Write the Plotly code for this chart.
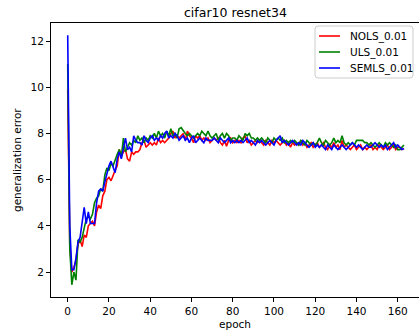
import plotly.graph_objects as go

nols = [9.9, 3.2, 2.0, 2.2, 2.5, 3.2, 3.4, 3.1, 3.6, 3.5,
        4.0, 4.1, 4.2, 4.0, 4.6, 4.9, 4.75, 5.3, 5.5, 6.0,
        6.1, 5.95, 6.2, 6.4, 6.6, 7.3, 7.0, 7.2, 7.3, 6.9,
        6.8, 7.2, 7.1, 7.2, 7.2, 7.3, 7.6, 7.7, 7.4, 7.5,
        7.6, 7.5, 7.6, 7.5, 7.8, 7.6, 7.7, 7.6, 7.7, 7.8,
        8.0, 8.1, 7.8, 7.9, 7.8, 7.9, 8.0, 7.7, 8.1, 7.9,
        7.8, 7.6, 7.9, 7.8, 7.9, 7.7, 7.8, 7.7, 7.8, 7.6,
        7.7, 7.8, 7.7, 7.8, 7.6, 7.5, 7.7, 7.45, 7.7, 7.8,
        7.6, 7.7, 7.6, 7.7, 7.6, 7.8, 7.9, 7.6, 7.7, 7.5,
        7.6, 7.7, 7.6, 7.7, 7.6, 7.5, 7.7, 7.6, 7.5, 7.7,
        7.6, 7.7, 7.6, 7.5, 7.6, 7.7, 7.5, 7.6, 7.4, 7.6,
        7.5, 7.6, 7.5, 7.7, 7.5, 7.6, 7.4, 7.5, 7.6, 7.4,
        7.5, 7.6, 7.4, 7.5, 7.6, 7.4, 7.3, 7.5, 7.4, 7.6,
        7.4, 7.5, 7.3, 7.7, 7.4, 7.5, 7.4, 7.3, 7.4, 7.5,
        7.3, 7.4, 7.5, 7.3, 7.4, 7.3, 7.4, 7.5, 7.3, 7.4,
        7.3, 7.5, 7.4, 7.3, 7.4, 7.5, 7.3, 7.4, 7.5, 7.3,
        7.4, 7.4, 7.3, 7.35]

uls = [11.0, 3.0, 1.45, 2.0, 1.65, 3.4, 3.3, 3.5, 3.9, 4.3,
       4.4, 4.3, 4.5, 5.0, 5.2, 5.3, 5.6, 5.5, 6.2, 6.5,
       6.4, 6.7, 6.6, 6.9, 7.1, 7.3, 7.0, 7.8, 7.2, 7.4,
       7.6, 7.5, 7.7, 7.6, 7.9, 7.7, 7.8, 7.6, 7.8, 7.7,
       7.9, 7.8, 8.0, 7.8, 8.1, 7.9, 8.0, 7.8, 8.1, 7.9,
       8.2, 7.9, 8.0, 7.8, 8.2, 8.25, 8.1, 8.0, 7.9, 8.0,
       7.9, 7.8, 7.9, 8.0, 7.9, 8.1, 8.0, 7.9, 8.1, 7.9,
       7.8, 7.9, 8.0, 7.7, 7.9, 8.0, 7.8, 8.0, 7.9, 7.7,
       7.8, 7.8, 7.7, 7.9, 7.8, 7.7, 8.0, 7.9, 8.0, 7.8,
       7.8, 7.7, 7.8, 7.7, 7.8, 7.7, 7.6, 7.8, 7.7, 7.6,
       7.8, 7.7, 7.8, 7.7, 7.8, 7.6, 7.7, 7.6, 7.7, 7.6,
       7.7, 7.6, 7.5, 7.7, 7.6, 7.5, 7.7, 7.6, 7.5, 7.6,
       7.5, 7.6, 7.8, 7.6, 7.5, 7.7, 7.6, 7.5, 7.6, 7.8,
       7.6, 7.7, 7.6, 7.9, 7.6, 7.5, 7.6, 7.5, 7.6, 7.5,
       7.7, 7.7, 7.7, 7.7, 7.6, 7.6, 7.5, 7.6, 7.5, 7.4,
       7.5, 7.6, 7.5, 7.4, 7.6, 7.5, 7.6, 7.5, 7.4, 7.5,
       7.3, 7.3, 7.4, 7.5]

semls = [12.25, 4.0, 2.1, 2.1, 2.6, 3.3, 3.5, 4.2, 4.8, 4.1,
         4.6, 4.1, 4.1, 4.1, 5.0, 5.5, 5.6, 5.5, 5.9, 6.3,
         6.6, 6.8, 6.5, 6.3, 6.9, 7.2, 6.9, 7.3, 7.8, 7.3,
         7.4, 7.2, 7.9, 7.7, 7.6, 7.6, 7.5, 7.9, 7.7, 7.6,
         7.8, 7.9, 7.7, 7.8, 7.7, 7.9, 7.8, 8.0, 8.1, 7.8,
         7.9, 7.8, 8.0, 7.9, 7.7, 7.8, 7.9, 7.7, 7.8, 7.6,
         7.8, 7.9, 7.6, 7.7, 7.8, 7.7, 7.6, 7.8, 7.7, 7.7,
         7.7, 7.8, 7.7, 7.6, 7.8, 7.7, 7.6, 7.7, 7.8, 7.6,
         7.7, 7.6, 7.7, 7.6, 7.7, 7.6, 7.7, 7.8, 7.6, 7.7,
         7.6, 7.5, 7.7, 7.6, 7.7, 7.6, 7.5, 7.6, 7.7, 7.6,
         7.5, 7.7, 7.8, 7.9, 7.6, 7.7, 7.6, 7.5, 7.6, 7.7,
         7.6, 7.5, 7.6, 7.5, 7.7, 7.6, 7.5, 7.4, 7.5, 7.6,
         7.4, 7.5, 7.4, 7.5, 7.4, 7.3, 7.5, 7.4, 7.3, 7.5,
         7.4, 7.3, 7.4, 7.5, 7.4, 7.3, 7.4, 7.5, 7.6, 7.5,
         7.4, 7.5, 7.4, 7.3, 7.4, 7.5, 7.4, 7.4, 7.5, 7.6,
         7.5, 7.4, 7.5, 7.4, 7.5, 7.3, 7.4, 7.5, 7.6, 7.4,
         7.5, 7.4, 7.3, 7.35]

series_names = ["NOLS_0.01", "ULS_0.01", "SEMLS_0.01"]
series_colors = ["#ff0000", "#008000", "#0000ff"]
x_ticks = [0, 20, 40, 60, 80, 100, 120, 140, 160]
y_ticks = [2, 4, 6, 8, 10, 12]

FONT = "DejaVu Sans"
W, H = 419, 334
L, R, T, B = 51, 0, 23, 37
PW, PH = W - L - R, H - T - B

fig = go.Figure()
for name, vals, col in zip(series_names, [nols, uls, semls], series_colors):
    fig.add_trace(go.Scatter(x=list(range(len(vals))), y=vals, mode="lines",
                             name=name, line=dict(color=col, width=1.6),
                             showlegend=False))

axis_common = dict(showline=True, linecolor="black", linewidth=1, mirror=True,
                   ticks="outside", ticklen=4, tickwidth=1, tickcolor="black",
                   showgrid=False, zeroline=False, automargin=False,
                   tickfont=dict(family=FONT, size=10.5, color="black"))


def px(xp):
    return (xp - L) / PW


def py(yp):
    return 1 - (yp - T) / PH


shapes = []
annotations = [
    dict(text="cifar10 resnet34", xref="paper", yref="paper", x=px(235),
         y=py(13), xanchor="center", yanchor="middle",
         showarrow=False, font=dict(family=FONT, size=12.5)),
    dict(text="epoch", xref="paper", yref="paper", x=px(235),
         y=py(324), xanchor="center", yanchor="middle",
         showarrow=False, font=dict(family=FONT, size=10.5)),
    dict(text="generalization error", xref="paper", yref="paper",
         x=px(17), y=0.5, xanchor="center", yanchor="middle",
         textangle=-90, showarrow=False, font=dict(family=FONT, size=10.5)),
]

# legend box (manual, matplotlib-like)
bx0, bx1, by0, by1, rr = 315, 413, 26, 78, 3
path = (f"M {px(bx0 + rr)} {py(by0)} L {px(bx1 - rr)} {py(by0)} "
        f"Q {px(bx1)} {py(by0)} {px(bx1)} {py(by0 + rr)} "
        f"L {px(bx1)} {py(by1 - rr)} Q {px(bx1)} {py(by1)} {px(bx1 - rr)} {py(by1)} "
        f"L {px(bx0 + rr)} {py(by1)} Q {px(bx0)} {py(by1)} {px(bx0)} {py(by1 - rr)} "
        f"L {px(bx0)} {py(by0 + rr)} Q {px(bx0)} {py(by0)} {px(bx0 + rr)} {py(by0)} Z")
shapes.append(dict(type="path", path=path, xref="paper", yref="paper",
                   fillcolor="rgba(255,255,255,0.85)",
                   line=dict(color="#cccccc", width=1)))
for i, (name, col) in enumerate(zip(series_names, series_colors)):
    yy = 36 + 16 * i
    shapes.append(dict(type="line", xref="paper", yref="paper",
                       x0=px(319), x1=px(340), y0=py(yy), y1=py(yy),
                       line=dict(color=col, width=1.6)))
    annotations.append(dict(text=name, xref="paper", yref="paper",
                            x=px(348), y=py(yy), xanchor="left",
                            yanchor="middle", showarrow=False,
                            font=dict(family=FONT, size=10.5)))

fig.update_layout(
    width=W, height=H,
    margin=dict(l=L, r=R, t=T, b=B, pad=0),
    plot_bgcolor="white", paper_bgcolor="white",
    font=dict(family=FONT, size=10.5, color="black"),
    xaxis=dict(range=[-8.1, 170.3], tickvals=x_ticks, **axis_common),
    yaxis=dict(range=[0.92, 12.78], tickvals=y_ticks, **axis_common),
    showlegend=False,
    shapes=shapes,
    annotations=annotations,
)

fig.write_html("out.html")
